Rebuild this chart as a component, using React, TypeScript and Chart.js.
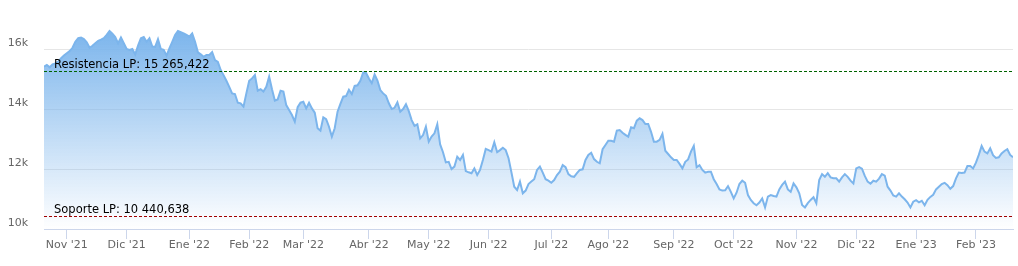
import React, { useEffect, useRef } from "react";
import { Chart, registerables } from "chart.js";

Chart.register(...registerables);

// Daily closes (in thousands), one per trading day, Oct 2021 – Feb 2023
const closeK: number[] = [
  15.41, 15.47, 15.39, 15.49, 15.52, 15.58, 15.69, 15.78, 15.86, 15.93,
  16.04, 16.24, 16.36, 16.38, 16.33, 16.22, 16.04, 16.11, 16.19, 16.27,
  16.31, 16.36, 16.47, 16.60, 16.51, 16.40, 16.19, 16.38, 16.19, 16.00,
  15.97, 16.00, 15.82, 16.11, 16.36, 16.40, 16.24, 16.36, 16.08, 16.07,
  16.33, 16.00, 15.97, 15.78, 16.02, 16.24, 16.47, 16.60, 16.56, 16.52,
  16.47, 16.41, 16.52, 16.24, 15.89, 15.82, 15.74,
  15.80, 15.80, 15.90, 15.63, 15.57, 15.30, 15.13, 14.94, 14.74, 14.52,
  14.50, 14.21, 14.19, 14.08, 14.52, 14.94, 15.02, 15.13, 14.61, 14.66,
  14.58, 14.74, 15.08, 14.66, 14.28, 14.32, 14.61, 14.58, 14.13, 13.97,
  13.80, 13.58, 14.06, 14.21, 14.24, 14.02, 14.21, 14.02, 13.88, 13.36,
  13.28, 13.72, 13.66, 13.41, 13.08, 13.36, 13.91, 14.17, 14.41, 14.43,
  14.64, 14.50, 14.77, 14.79, 14.94, 15.22,
  15.20, 15.02, 14.86, 15.15, 14.95, 14.63, 14.52, 14.44, 14.19, 14.00,
  14.04, 14.22, 13.91, 14.00, 14.16, 13.93, 13.63, 13.44, 13.49, 13.02,
  13.13, 13.41, 12.91, 13.08, 13.19, 13.49, 12.82, 12.56, 12.22, 12.24,
  12.00, 12.08, 12.41, 12.30, 12.47, 11.93, 11.89, 11.86, 12.02, 11.80,
  11.97, 12.30, 12.67, 12.63, 12.58, 12.89, 12.56, 12.63, 12.71, 12.63,
  12.36, 11.89, 11.41, 11.30, 11.58, 11.19,
  11.28, 11.50, 11.58, 11.66, 11.97, 12.08, 11.88, 11.66, 11.61, 11.54,
  11.63, 11.80, 11.91, 12.13, 12.06, 11.83, 11.76, 11.74, 11.86, 11.97,
  11.99, 12.30, 12.47, 12.54, 12.33, 12.24, 12.19, 12.66, 12.80, 12.94,
  12.94, 12.91, 13.28, 13.30, 13.21, 13.14, 13.08, 13.39, 13.36, 13.61,
  13.69, 13.63, 13.50, 13.50, 13.24, 12.91, 12.91, 12.97, 13.17, 12.61,
  12.50, 12.39, 12.30, 12.30, 12.17, 12.02,
  12.24, 12.32, 12.58, 12.77, 12.06, 12.13, 11.97, 11.88, 11.91, 11.91,
  11.66, 11.50, 11.32, 11.28, 11.29, 11.43, 11.24, 11.02, 11.21, 11.50,
  11.61, 11.54, 11.13, 10.97, 10.86, 10.79, 10.88, 11.02, 10.72, 11.08,
  11.13, 11.10, 11.08, 11.32, 11.47, 11.58, 11.32, 11.24, 11.52, 11.39,
  11.19, 10.80, 10.72, 10.86, 10.97, 11.06, 10.86, 11.63, 11.83, 11.74,
  11.86, 11.72, 11.69, 11.69, 11.58, 11.72,
  11.83, 11.74, 11.61, 11.52, 12.02, 12.06, 12.01, 11.77, 11.58, 11.51,
  11.61, 11.58, 11.68, 11.83, 11.78, 11.41, 11.28, 11.12, 11.08, 11.19,
  11.08, 10.99, 10.88, 10.72, 10.91, 10.96, 10.89, 10.94, 10.79, 10.97,
  11.07, 11.14, 11.32, 11.41, 11.50, 11.54, 11.46, 11.34, 11.43, 11.69,
  11.88, 11.87, 11.88, 12.10, 12.10, 12.02, 12.21, 12.47, 12.77, 12.58,
  12.52, 12.69, 12.46, 12.37, 12.39, 12.52, 12.60, 12.66, 12.47, 12.39,
];

// Month starts (trading-day index) and their labels
const monthIdx: number[] = [8, 29, 51, 72, 91, 114, 135, 156, 178, 198, 221, 242, 264, 285, 306, 327];
const monthLabels: string[] = [
  "Nov '21", "Dic '21", "Ene '22", "Feb '22", "Mar '22", "Abr '22", "May '22", "Jun '22",
  "Jul '22", "Ago '22", "Sep '22", "Oct '22", "Nov '22", "Dic '22", "Ene '23", "Feb '23",
];

// Y-axis ticks
const yTicks: number[] = [10000, 12000, 14000, 16000];

// Horizontal levels
const levelNames: string[] = ["Resistencia LP", "Soporte LP"];
const levelValues: number[] = [15265.422, 10440.638];
const levelColors: string[] = ["#006400", "#a00000"];

const FONT = "'DejaVu Sans', sans-serif";

const fmt = (v: number) => {
  const [int, dec] = v.toFixed(3).split(".");
  return int.replace(/\B(?=(\d{3})+(?!\d))/g, " ") + "," + dec;
};

const levelsPlugin = {
  id: "levels",
  afterDatasetsDraw(chart: any) {
    const { ctx, chartArea, scales } = chart;
    const y = scales.y;
    levelValues.forEach((v, i) => {
      const py = Math.round(y.getPixelForValue(v)) + 0.5;
      ctx.save();
      ctx.strokeStyle = levelColors[i];
      ctx.lineWidth = 1;
      ctx.setLineDash([3, 2]);
      ctx.beginPath();
      ctx.moveTo(chartArea.left, py);
      ctx.lineTo(chartArea.right, py);
      ctx.stroke();
      ctx.setLineDash([]);
      ctx.fillStyle = "#000";
      ctx.font = `11.5px ${FONT}`;
      ctx.textBaseline = "alphabetic";
      ctx.textAlign = "left";
      ctx.fillText(`${levelNames[i]}: ${fmt(v)}`, chartArea.left + 10, py - 3.5);
      ctx.restore();
    });
  },
};

export default function App() {
  const ref = useRef<HTMLCanvasElement | null>(null);

  useEffect(() => {
    if (!ref.current) return;
    const data = closeK.map((v, i) => ({ x: i, y: v * 1000 }));
    const dataMax = Math.max(...closeK) * 1000;
    const chart = new Chart(ref.current, {
      type: "line",
      data: {
        datasets: [
          {
            data,
            borderColor: "#7cb5ec",
            borderWidth: 2,
            pointRadius: 0,
            tension: 0,
            fill: "start",
            backgroundColor: (c: any) => {
              const ch = c.chart;
              const area = ch.chartArea;
              if (!area) return "rgba(124,181,236,0.5)";
              const top = ch.scales.y.getPixelForValue(dataMax);
              const g = ch.ctx.createLinearGradient(0, top, 0, area.bottom);
              g.addColorStop(0, "rgba(124,181,236,1)");
              g.addColorStop(1, "rgba(124,181,236,0)");
              return g;
            },
          },
        ],
      },
      options: {
        animation: false,
        responsive: false,
        layout: { padding: { top: 10, right: 5, bottom: 0, left: 0 } },
        plugins: { legend: { display: false }, tooltip: { enabled: false } },
        scales: {
          x: {
            type: "linear",
            min: 0,
            max: closeK.length - 1,
            afterBuildTicks: (s: any) => {
              s.ticks = monthIdx.map((v) => ({ value: v }));
            },
            afterFit: (s: any) => {
              s.height = 37;
              s.paddingLeft = 0;
              s.paddingRight = 0;
            },
            grid: {
              drawOnChartArea: false,
              drawTicks: true,
              tickLength: 10,
              color: "#ccd6eb",
            },
            border: { color: "#ccd6eb", width: 1 },
            ticks: {
              autoSkip: false,
              maxRotation: 0,
              padding: 0,
              color: "#666666",
              font: { family: FONT, size: 11 },
              callback: (_v: any, i: number) => monthLabels[i],
            },
          },
          y: {
            type: "linear",
            min: 10000,
            max: 17300,
            afterBuildTicks: (s: any) => {
              s.ticks = yTicks.map((v) => ({ value: v }));
            },
            afterFit: (s: any) => {
              s.width = 44;
              s.paddingTop = 0;
              s.paddingBottom = 0;
            },
            grid: {
              drawTicks: false,
              color: (c: any) => (c.tick && c.tick.value === 10000 ? "rgba(0,0,0,0)" : "#e6e6e6"),
            },
            border: { display: false },
            ticks: {
              padding: 16,
              labelOffset: -6,
              color: "#666666",
              font: { family: FONT, size: 11 },
              callback: (v: any) => `${Number(v) / 1000}k`,
            },
          },
        },
      },
      plugins: [levelsPlugin],
    });
    return () => chart.destroy();
  }, []);

  return (
    <div style={{ position: "fixed", left: 0, top: 0, width: 1018, height: 266, background: "#fff" }}>
      <canvas ref={ref} width={1018} height={266} style={{ display: "block" }} />
    </div>
  );
}
